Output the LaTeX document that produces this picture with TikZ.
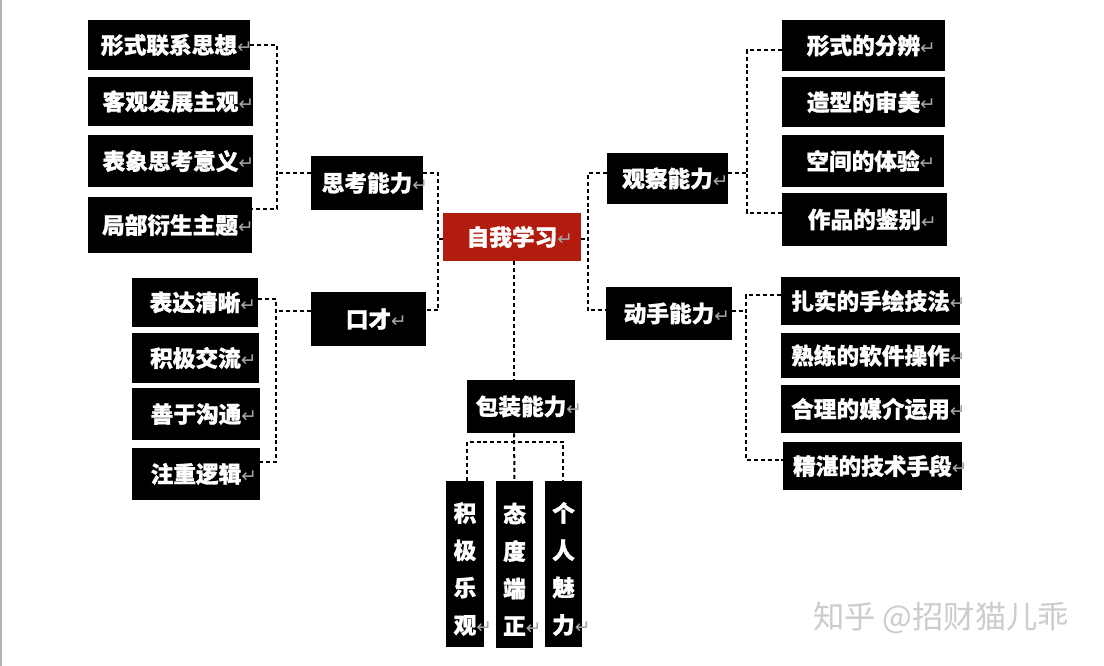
\documentclass[tikz,border=0pt]{standalone}
\usepackage{fontspec}
\setmainfont{Noto Sans CJK SC}
\newfontfamily\cjk{Noto Sans CJK SC}[BoldFeatures={FakeBold=1.2}]
\newfontfamily\dvs{DejaVu Sans}
\usetikzlibrary{calc}
\definecolor{boxred}{RGB}{178,28,14}
\newcommand{\rt}{\rlap{\dvs\mdseries\fontsize{14}{10}\selectfont\color{gray!70}↵}}
\newcommand{\vup}{\rule{0pt}{22pt}}
\begin{document}
\begin{tikzpicture}[x=0.75pt,y=-0.75pt,
  bx/.style n args={2}{fill=black,text=white,inner sep=0pt,
    minimum width=#1*0.75pt,minimum height=#2*0.75pt,
    font=\cjk\bfseries\fontsize{17}{20}\selectfont},
  vbx/.style n args={2}{bx={#1}{#2},align=center,
    font=\cjk\bfseries\fontsize{17}{28}\selectfont},
  dl/.style={line width=1.5pt,dash pattern=on 3pt off 2.2pt,black}]
\fill[white] (0,0) rectangle (1104,666);
\useasboundingbox (0,0) rectangle (1104,666);
\draw[gray!60,line width=1.5pt] (0.5,0) -- (0.5,666);

% left group 1
\node[bx={162}{50}] (L1a) at (169,45) {形式联系思想\rt};
\node[bx={165}{49}] (L1b) at (170.5,101.5) {客观发展主观\rt};
\node[bx={165}{52}] (L1c) at (170.5,161) {表象思考意义\rt};
\node[bx={164}{56}] (L1d) at (170,225) {局部衍生主题\rt};
\node[bx={112}{54}] (T) at (367,183) {思考能力\rt};
% left group 2
\node[bx={115}{54}] (K) at (368.5,319) {口才\rt};
\node[bx={126}{49}] (L2a) at (195,302.5) {表达清晰\rt};
\node[bx={127}{50}] (L2b) at (195.5,358) {积极交流\rt};
\node[bx={128}{52}] (L2c) at (196,414) {善于沟通\rt};
\node[bx={128}{52}] (L2d) at (196,474) {注重逻辑\rt};
% center
\node[bx={138}{48},fill=boxred] (Z) at (512,237) {自我学习\rt};
\node[bx={108}{53}] (B) at (521,406.5) {包装能力\rt};
\node[vbx={38}{166}] (V1) at (465,564) {{\vup}积\\极\\乐\\观\rt};
\node[vbx={37}{167}] (V2) at (514.5,564.5) {{\vup}态\\度\\端\\正\rt};
\node[vbx={37}{166}] (V3) at (563.5,564) {{\vup}个\\人\\魅\\力\rt};
% right group 1
\node[bx={121}{51}] (O) at (667.5,178.5) {观察能力\rt};
\node[bx={163}{51}] (R1a) at (863.5,45.5) {形式的分辨\rt};
\node[bx={163}{50}] (R1b) at (863.5,102) {造型的审美\rt};
\node[bx={162}{52}] (R1c) at (863,161) {空间的体验\rt};
\node[bx={165}{53}] (R1d) at (864.5,219.5) {作品的鉴别\rt};
% right group 2
\node[bx={126}{53}] (D) at (669,313.5) {动手能力\rt};
\node[bx={179}{48}] (R2a) at (870.5,301) {扎实的手绘技法\rt};
\node[bx={179}{45}] (R2b) at (870.5,355.5) {熟练的软件操作\rt};
\node[bx={179}{48}] (R2c) at (870.5,409) {合理的媒介运用\rt};
\node[bx={179}{48}] (R2d) at (872.5,466) {精湛的技术手段\rt};

% connectors left 1
\draw[dl] (L1a.east) -- ++(27,0) |- ($(L1d.north east)+(0,12)$);
\draw[dl] ($(T.west)+(0,-10)$) -- ++(-34,0);
% connectors left 2
\draw[dl] ($(L2a.east)+(0,-3.5)$) -- ++(18,0) |- ($(L2d.north east)+(0,14)$);
\draw[dl] ($(K.west)+(0,-8)$) -- ++(-35,0);
% center left
\draw[dl] ($(T.east)+(0,-10)$) -| ($(K.east)+(12,-9)$) -- ($(K.east)+(0,-9)$);
\draw[dl] ($(Z.west)+(0,2)$) -- ++(-5,0);
% center right
\draw[dl] ($(O.west)+(0,-5.5)$) -| ($(D.west)+(-18,-3.5)$) -- ($(D.west)+(0,-3.5)$);
\draw[dl] ($(Z.east)+(0,2)$) -- ++(7,0);
% center down
\draw[dl] ($(Z.south)+(2,0)$) -- ($(B.north)+(-7,0)$);
\draw[dl] ($(B.south)+(-7,0)$) -- (V2.north);
\draw[dl] ($(V1.north)+(2,0)$) -- ++(0,-39) -| ($(V3.north)+(-0.5,0)$);
% right 1
\draw[dl] ($(O.east)+(0,-5.5)$) -- ++(19,0);
\draw[dl] ($(R1a.west)+(0,4.5)$) -- ++(-35,0) |- ($(R1d.west)+(0,-6.5)$);
% right 2
\draw[dl] ($(D.east)+(0,-2.5)$) -- ++(14,0);
\draw[dl] ($(R2a.west)+(0,-6)$) -- ++(-35,0) |- ($(R2d.west)+(0,-6)$);

% watermark
\node[text=black!20,font=\cjk\fontsize{23.5}{24}\selectfont,inner sep=0pt] (wm) at (941,618) {知乎 @招财猫儿乖};
\end{tikzpicture}
\end{document}
